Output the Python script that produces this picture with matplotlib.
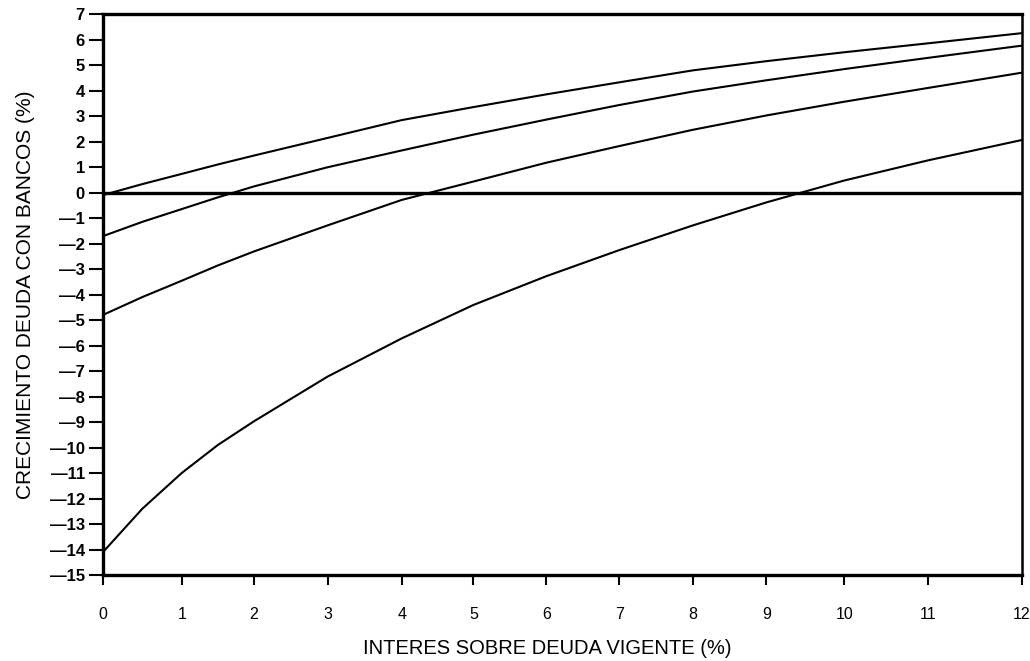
import numpy as np
import matplotlib
matplotlib.use('Agg')
import matplotlib.pyplot as plt

# Interés sobre deuda vigente (%) vs crecimiento de la deuda con bancos (%)
interes = [0, 0.5, 1, 1.5, 2, 3, 4, 5, 6, 7, 8, 9, 10, 11, 12]

curva_a = [-0.10, 0.33, 0.73, 1.10, 1.45, 2.14, 2.84, 3.35, 3.85, 4.32, 4.79, 5.15, 5.50, 5.85, 6.25]
curva_b = [-1.71, -1.15, -0.65, -0.19, 0.24, 0.99, 1.65, 2.27, 2.86, 3.43, 3.96, 4.40, 4.84, 5.28, 5.76]
curva_c = [-4.80, -4.10, -3.46, -2.86, -2.31, -1.29, -0.29, 0.43, 1.17, 1.82, 2.46, 3.02, 3.56, 4.10, 4.70]
curva_d = [-14.10, -12.40, -11.00, -9.90, -8.97, -7.22, -5.72, -4.41, -3.28, -2.26, -1.29, -0.39, 0.47, 1.26, 2.06]

y_ticks = list(range(-15, 8))
x_ticks = list(range(0, 13))

# el eje impreso no es uniforme: posicion (px) de cada marca en el original
X_TICK_PX = [103, 181.7, 254, 327.5, 401.7, 473.3, 546.3, 619, 692.7, 766, 844, 927.7, 1021.7]


def fwd(x):
	return np.interp(x, x_ticks, X_TICK_PX)


def inv(p):
	return np.interp(p, X_TICK_PX, x_ticks)


plt.rcParams['font.family'] = ['Liberation Sans', 'DejaVu Sans']

fig = plt.figure(figsize=(10.3, 6.61), dpi=100)
ax = fig.add_axes([0.1, 0.1301, 0.8922, 0.8487])

ax.set_xscale('function', functions=(fwd, inv))
ax.set_xlim(0, 12)
ax.set_ylim(-15, 7)

for serie in (curva_a, curva_b, curva_c, curva_d):
	ax.plot(interes, serie, color='black', linewidth=1.5)

ax.axhline(0, color='black', linewidth=2.4)

# marco
for lado in ('left', 'bottom', 'top'):
	ax.spines[lado].set_linewidth(2.4)
ax.spines['right'].set_linewidth(1.8)

ax.set_xticks(x_ticks)
ax.set_xticklabels([str(v) for v in x_ticks], fontsize=11.5)
ax.set_yticks(y_ticks)
ax.set_yticklabels([str(v) if v >= 0 else '\u2014' + str(abs(v)) for v in y_ticks],
                   fontsize=12, fontweight='bold')
ax.xaxis.set_minor_locator(matplotlib.ticker.NullLocator())
ax.tick_params(axis='x', direction='out', length=7, width=1.5, pad=16)
ax.tick_params(axis='y', direction='out', length=10, width=1.5, pad=3)

ax.set_xlabel('INTERES SOBRE DEUDA VIGENTE (%)', fontsize=14.5)
ax.set_ylabel('CRECIMIENTO DEUDA CON BANCOS (%)', fontsize=15)
ax.xaxis.set_label_coords(0.483, -0.114)
ax.yaxis.set_label_coords(-0.074, 0.5)

plt.savefig('out.png', dpi=100)
